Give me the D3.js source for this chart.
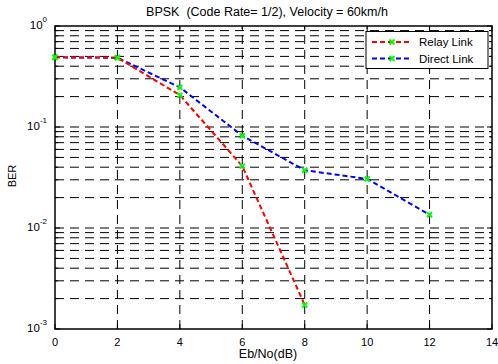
<!DOCTYPE html>
<html>
<head>
<meta charset="utf-8">
<script src="https://cdn.jsdelivr.net/npm/d3@7"></script>
<style>
  html, body { margin: 0; padding: 0; background: #fff; }
  svg { display: block; font-family: "Liberation Sans", Arial, Helvetica, sans-serif; }
  text { white-space: pre; }
</style>
</head>
<body>
<svg id="chart" width="498" height="364"></svg>
<script>
// Eb/No sample points (dB)
const ebno = [0, 2, 4, 6, 8, 10, 12];
// Bit error rate for each link
const relayBER = [0.49, 0.485, 0.207, 0.041, 0.00173];
const directBER = [0.49, 0.485, 0.247, 0.082, 0.0373, 0.0306, 0.01355];
const seriesNames = ["Relay Link", "Direct Link"];
const seriesColors = ["#ff0000", "#0000ff"];
const xTicks = [0, 2, 4, 6, 8, 10, 12, 14];
const yDecades = [-3, -2, -1, 0];
const titleText = "BPSK  (Code Rate= 1/2), Velocity = 60km/h";
const xLabel = "Eb/No(dB)";
const yLabel = "BER";

const svg = d3.select("#chart");
const m = { left: 55, top: 26, right: 492, bottom: 329 };

const x = d3.scaleLinear().domain([0, 14]).range([m.left, m.right]);
const y = d3.scaleLog().domain([1e-3, 1]).range([m.bottom, m.top]);

// values 1..9 x 10^k for the log grid
const logVals = [];
yDecades.slice(0, -1).forEach(k => {
  for (let i = 1; i <= 9; i++) logVals.push(i * Math.pow(10, k));
});
logVals.push(1);

const g = svg.append("g");

// dashed grid
g.append("g").selectAll("line").data(logVals.filter(v => v > 1e-3 && v < 1)).join("line")
  .attr("x1", m.left).attr("x2", m.right)
  .attr("y1", d => y(d)).attr("y2", d => y(d))
  .attr("stroke", "#000").attr("stroke-width", 1)
  .attr("stroke-dasharray", "9,6");
g.append("g").selectAll("line").data(xTicks.filter(v => v > 0 && v < 14)).join("line")
  .attr("x1", d => x(d)).attr("x2", d => x(d))
  .attr("y1", m.bottom).attr("y2", m.top)
  .attr("stroke", "#000").attr("stroke-width", 1)
  .attr("stroke-dasharray", "9,6");

// inward ticks on all four sides
const tick = g.append("g").attr("stroke", "#000").attr("stroke-width", 1);
logVals.forEach(v => {
  const isMajor = Math.abs(Math.log10(v) - Math.round(Math.log10(v))) < 1e-9;
  const len = isMajor ? 5 : 3;
  tick.append("line").attr("x1", m.left).attr("x2", m.left + len).attr("y1", y(v)).attr("y2", y(v));
  tick.append("line").attr("x1", m.right).attr("x2", m.right - len).attr("y1", y(v)).attr("y2", y(v));
});
xTicks.forEach(v => {
  tick.append("line").attr("x1", x(v)).attr("x2", x(v)).attr("y1", m.bottom).attr("y2", m.bottom - 5);
  tick.append("line").attr("x1", x(v)).attr("x2", x(v)).attr("y1", m.top).attr("y2", m.top + 5);
});

// axes box
g.append("rect")
  .attr("x", m.left).attr("y", m.top)
  .attr("width", m.right - m.left).attr("height", m.bottom - m.top)
  .attr("fill", "none").attr("stroke", "#000").attr("stroke-width", 1.5);

// x tick labels
g.append("g").selectAll("text").data(xTicks).join("text")
  .attr("x", d => x(d)).attr("y", 346)
  .attr("text-anchor", "middle").attr("font-size", 11).text(d => d);

// y tick labels: 10 with exponent
const yl = g.append("g").selectAll("text").data(yDecades).join("text")
  .attr("x", 47).attr("y", d => y(Math.pow(10, d)) + 3)
  .attr("text-anchor", "end").attr("font-size", 11.5);
yl.append("tspan").text("10");
yl.append("tspan").attr("dy", -7).attr("font-size", 8).text(d => d);

// titles
svg.append("text").attr("x", 267).attr("y", 16).attr("text-anchor", "middle")
  .attr("font-size", 12.5).text(titleText);
svg.append("text").attr("x", 268).attr("y", 358).attr("text-anchor", "middle")
  .attr("font-size", 12.5).text(xLabel);
svg.append("text").attr("transform", "translate(16,176) rotate(-90)")
  .attr("text-anchor", "middle").attr("font-size", 11).text(yLabel);

// series
const series = [relayBER, directBER];
const line = d3.line().x((d, i) => x(ebno[i])).y(d => y(d));

function xMarker(sel, cx, cy) {
  const s = 2.5;
  sel.append("path")
    .attr("d", `M${cx - s},${cy - s}L${cx + s},${cy + s}M${cx - s},${cy + s}L${cx + s},${cy - s}`)
    .attr("stroke", "#00ff00").attr("stroke-width", 2).attr("fill", "none");
}

// direct first so relay is drawn on top
[1, 0].forEach(si => {
  const data = series[si];
  g.append("path").datum(data)
    .attr("d", line)
    .attr("fill", "none").attr("stroke", seriesColors[si])
    .attr("stroke-width", 2).attr("stroke-dasharray", "5,3");
  const mg = g.append("g");
  data.forEach((d, i) => xMarker(mg, x(ebno[i]), y(d)));
});

// legend
const lg = svg.append("g");
lg.append("rect").attr("x", 366).attr("y", 31.5).attr("width", 122).attr("height", 37)
  .attr("fill", "#fff").attr("stroke", "#000").attr("stroke-width", 1);
seriesNames.forEach((name, i) => {
  const ly = 42 + i * 16.5;
  lg.append("line").attr("x1", 372).attr("x2", 412).attr("y1", ly).attr("y2", ly)
    .attr("stroke", seriesColors[i]).attr("stroke-width", 2).attr("stroke-dasharray", "5,3");
  xMarker(lg, 392, ly);
  lg.append("text").attr("x", 419).attr("y", ly + 4).attr("font-size", 11.5).text(name);
});
</script>
</body>
</html>
